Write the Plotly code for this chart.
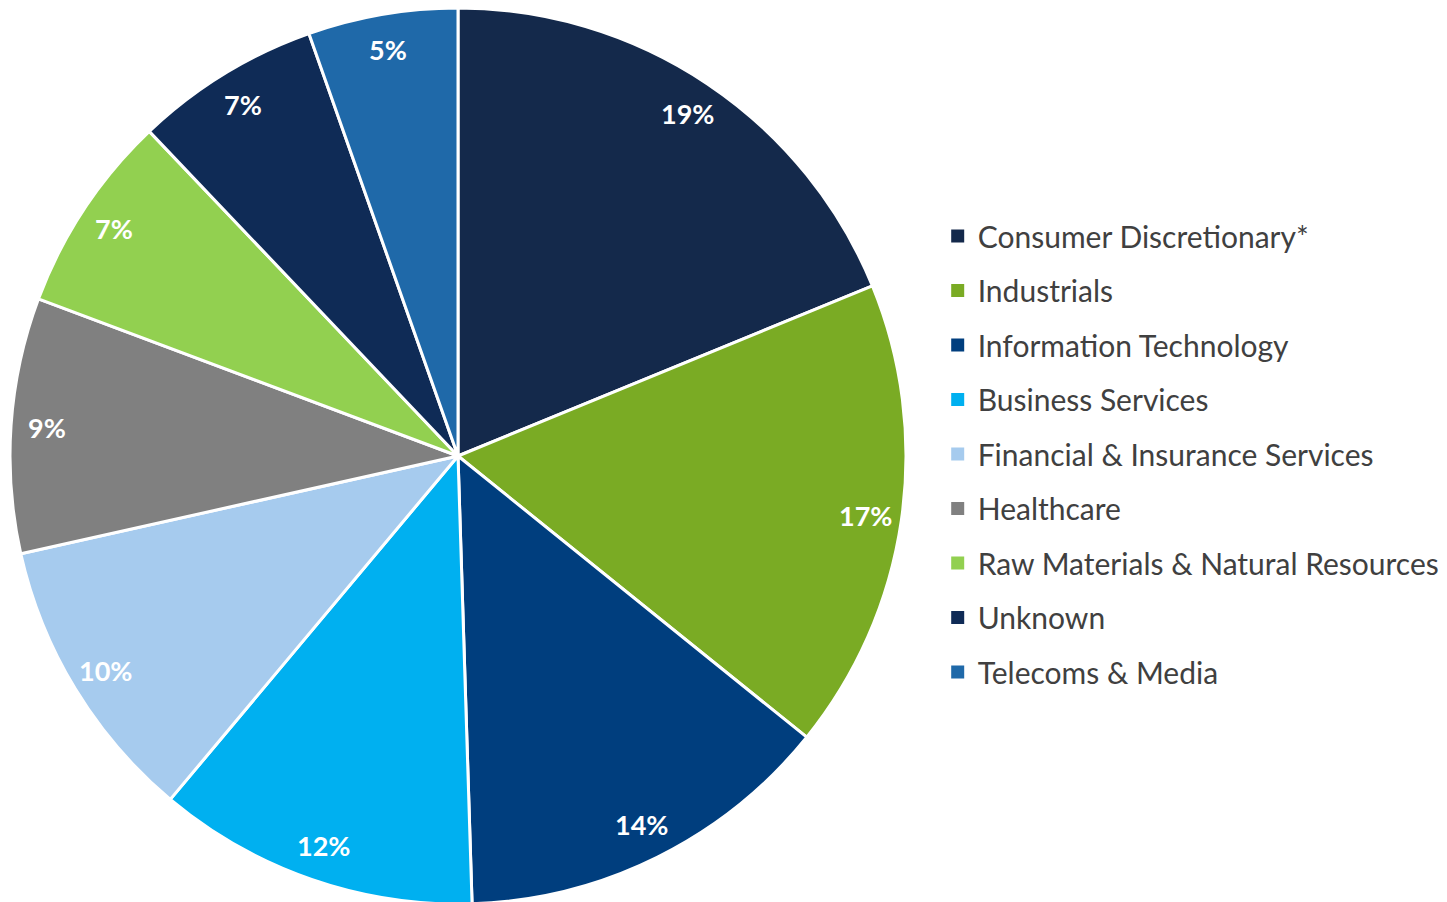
import math
import plotly.graph_objects as go

categories = ["Consumer Discretionary*", "Industrials", "Information Technology",
              "Business Services", "Financial & Insurance Services", "Healthcare",
              "Raw Materials & Natural Resources", "Unknown", "Telecoms & Media"]
values = [18.8, 17.0, 13.7, 11.6, 10.4, 9.2, 7.2, 6.7, 5.4]
colors = ["#14294B", "#7AAB24", "#003E7E", "#00B0F0", "#A6CBEE", "#808080",
          "#92D050", "#0F2B56", "#1F69A9"]

W, H = 1447, 902
pie_h = 896
dom_y = [1 - pie_h / H, 1]
dom_x = [0, 900 / W]
cx_paper = (dom_x[0] + dom_x[1]) / 2
cy_paper = (dom_y[0] + dom_y[1]) / 2
R = pie_h / 2

fig = go.Figure()
fig.add_trace(go.Pie(
    labels=categories, values=values, sort=False, direction="clockwise",
    rotation=0, marker=dict(colors=colors, line=dict(color="white", width=3)),
    textinfo="none", showlegend=False, hoverinfo="label+percent",
    domain=dict(x=dom_x, y=dom_y),
))

total = sum(values)
cum = 0
for v in values:
    mid = (cum + v / 2) / total * 2 * math.pi
    cum += v
    r = 0.92 * R
    fig.add_annotation(
        xref="paper", yref="paper",
        x=cx_paper + r * math.sin(mid) / W,
        y=cy_paper + r * math.cos(mid) / H,
        text=f"{v / total * 100:.0f}%", showarrow=False,
        font=dict(family="Lato", size=27, color="white", weight="bold"),
        xanchor="center", yanchor="middle",
    )

for name, col in zip(categories, colors):
    fig.add_trace(go.Scatter(
        x=[None], y=[None], mode="markers", name=name, legendgroup=name,
        marker=dict(symbol="square", size=13, color=col),
    ))

fig.update_layout(
    width=W, height=H, margin=dict(l=0, r=0, t=0, b=0),
    paper_bgcolor="white", plot_bgcolor="white",
    xaxis=dict(visible=False), yaxis=dict(visible=False),
    showlegend=True,
    legend=dict(x=0.6425, y=0.5055, xanchor="left", yanchor="middle",
                font=dict(family="Lato", size=30, color="#404040"),
                tracegroupgap=12.5, itemwidth=30, bgcolor="rgba(0,0,0,0)"),
)

fig.write_html("out.html")
